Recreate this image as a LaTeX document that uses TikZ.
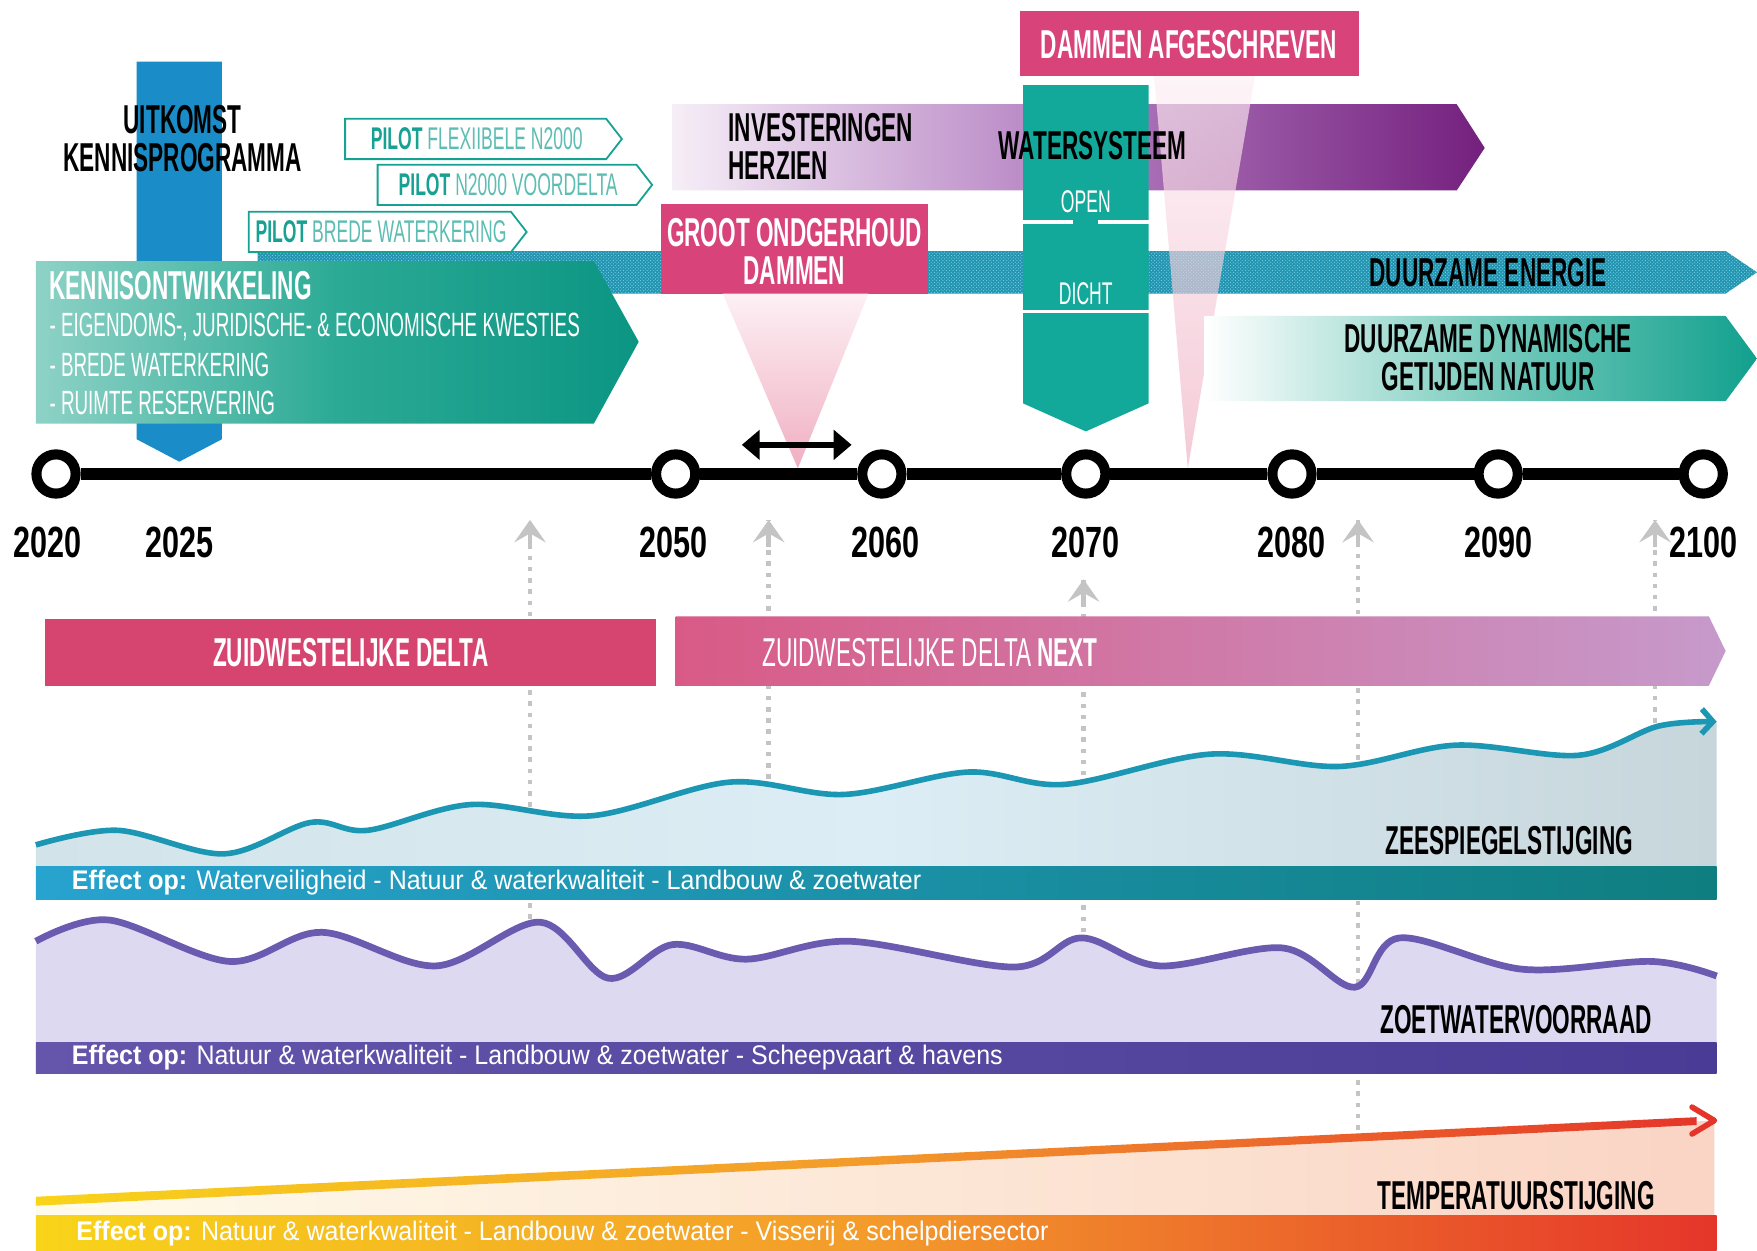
\documentclass[tikz,border=0pt]{standalone}
\usepackage{fontspec}
\usepackage{xcolor}
\usepackage{tikz}
\usetikzlibrary{arrows.meta,patterns}
\newfontfamily\headfont[FakeStretch=0.56]{Liberation Sans}
\newfontfamily\yearfont[FakeStretch=0.7]{Liberation Sans}
\newfontfamily\effectfont[FakeStretch=0.93]{Liberation Sans}
\definecolor{kennisblue}{HTML}{1A8CC7}
\definecolor{kennislight}{HTML}{8ED2C6}
\definecolor{kennismid}{HTML}{2BAA95}
\definecolor{kennisteal}{HTML}{0B9583}
\definecolor{bandcyan}{HTML}{2393B0}
\definecolor{banddot}{HTML}{7FDCEC}
\definecolor{pilotteal}{HTML}{17A192}
\definecolor{pilotsoft}{HTML}{5DBDB2}
\definecolor{investlight}{HTML}{F6EEF7}
\definecolor{investmid}{HTML}{B27DC0}
\definecolor{investpurple}{HTML}{74207E}
\definecolor{dampink}{HTML}{D8437A}
\definecolor{conetop}{HTML}{FDF0F4}
\definecolor{conebottom}{HTML}{F0AFC3}
\definecolor{watersys}{HTML}{12A99B}
\definecolor{getijmid}{HTML}{7CCDBF}
\definecolor{getijteal}{HTML}{12A08E}
\definecolor{hintgrey}{HTML}{C4C4C4}
\definecolor{deltapink}{HTML}{D6456F}
\definecolor{nextpink}{HTML}{D95A86}
\definecolor{nextlilac}{HTML}{C69ACB}
\definecolor{seafillL}{HTML}{D2E3E9}
\definecolor{seafillM}{HTML}{DCEDF5}
\definecolor{seafillR}{HTML}{C6D6DB}
\definecolor{seastroke}{HTML}{1B97B3}
\definecolor{seabarL}{HTML}{27A3CF}
\definecolor{seabarR}{HTML}{0F7E80}
\definecolor{zoetfill}{HTML}{DDD9F0}
\definecolor{zoetstroke}{HTML}{6A5BB0}
\definecolor{zoetbarL}{HTML}{6556AC}
\definecolor{zoetbarR}{HTML}{4A3B96}
\definecolor{tempfillL}{HTML}{FFFBEA}
\definecolor{tempfillR}{HTML}{FAD4C4}
\definecolor{tempyellow}{HTML}{F8D41A}
\definecolor{temporange}{HTML}{F39A2B}
\definecolor{tempred}{HTML}{E5352A}
\newcommand{\pilotbox}[5]{%
  \draw[pilotline] (#2,#3) -- (#4-14,#3) -- (#4,#3+18) -- (#4-14,#3+36) -- (#2,#3+36) -- cycle;%
  \node[pilottext] (#1) at ({(#2+#4)/2-6},#3+18) {\textbf{PILOT} {\color{pilotsoft}#5}};%
}
\newcommand{\effectbar}[6]{%
  \shade[#5] (32,#2) rectangle (1532,#3);%
  \node[effecttext] (#1) at (#4,{(#2+#3)/2}) {#6};%
}

\begin{document}
\begin{tikzpicture}[x=1pt,y=-1pt,
  headline/.style={font=\headfont\bfseries\fontsize{36}{34}\selectfont, align=center, inner sep=0pt},
  lighttext/.style={font=\headfont\fontsize{30}{34}\selectfont, inner sep=0pt},
  yearlabel/.style={font=\yearfont\bfseries\fontsize{39}{39}\selectfont, inner sep=0pt},
  yeardot/.style={circle, draw=black, line width=9pt, fill=white, minimum size=35pt, inner sep=0pt},
  axisline/.style={line width=10pt},
  hintline/.style={draw=hintgrey, line width=4pt, dash pattern=on 4pt off 6pt},
  hinttip/.style={draw=hintgrey, line width=4pt, -{Stealth[length=20pt,width=28pt,inset=8pt]}},
  effecttext/.style={font=\effectfont\fontsize{24}{24}\selectfont, text=white, anchor=west, inner sep=0pt},
  pilotline/.style={draw=pilotteal, line width=1.6pt, fill=white},
  pilottext/.style={font=\headfont\fontsize{28}{28}\selectfont, text=pilotteal, inner sep=0pt},
  seawave/.style={draw=seastroke, line width=5pt, -{Straight Barb[length=10pt,width=22pt]}},
  zoetwave/.style={draw=zoetstroke, line width=6pt}]
\useasboundingbox (0,0) rectangle (1568,1116);
\fill[white] (0,0) rectangle (1568,1116);

% grey hint arrows
\foreach \hx/\hlo/\hhi [count=\hk] in {473/820/464,686/695/464,967/832/517,1212/1008/464,1477/655/464}{
  \coordinate (hintfoot\hk) at (\hx,\hlo);
  \coordinate (hinthead\hk) at (\hx,\hhi);
  \draw[hintline] (hintfoot\hk) -- (hinthead\hk);
  \draw[hinttip] (hinthead\hk) ++(0,24) -- (hinthead\hk);
}

% duurzame energie band
\path[fill=bandcyan, postaction={pattern=crosshatch dots, pattern color=banddot}]
  (230,224) -- (1540,224) -- (1568,243) -- (1540,262) -- (230,262) -- cycle;

% pilots
\pilotbox{pilotflex}{308}{106}{555}{FLEXIIBELE N2000}
\pilotbox{pilotvoor}{337}{147}{582}{N2000 VOORDELTA}
\pilotbox{pilotbrede}{222}{189}{470}{BREDE WATERKERING}

% kennisprogramma
\fill[kennisblue] (122,55) -- (198,55) -- (198,392) -- (160,412) -- (122,392) -- cycle;
\shade[left color=kennislight, right color=kennisteal, middle color=kennismid]
  (32,233) -- (530,233) -- (570,305) -- (530,378) -- (32,378) -- cycle;
\node[headline] (uitkomst) at (163,124) {UITKOMST\\KENNISPROGRAMMA};
\node[headline, text=white, anchor=west] (kennistitle) at (44,255) {KENNISONTWIKKELING};
\node[lighttext, text=white, anchor=west] (kennis1) at (44,292) {- EIGENDOMS-, JURIDISCHE- \& ECONOMISCHE KWESTIES};
\node[lighttext, text=white, anchor=west] (kennis2) at (44,326) {- BREDE WATERKERING};
\node[lighttext, text=white, anchor=west] (kennis3) at (44,360) {- RUIMTE RESERVERING};

% investeringen
\shade[left color=investlight, right color=investpurple, middle color=investmid]
  (600,93) -- (1300,93) -- (1325,132) -- (1300,170) -- (600,170) -- cycle;
\node[headline, anchor=west, align=left] (invest) at (650,131) {INVESTERINGEN\\HERZIEN};

% dammen
\fill[dampink] (590,182) rectangle (828,262);
\node[headline, text=white] (groot) at (709,224) {GROOT ONDGERHOUD\\DAMMEN};
\shade[top color=conetop, bottom color=conebottom] (645,262) -- (775,262) -- (712,418) -- cycle;
\fill[dampink] (910,10) rectangle (1213,68);
\node[headline, text=white] (afgeschreven) at (1061,40) {DAMMEN AFGESCHREVEN};
\shade[top color=conetop, bottom color=conebottom, opacity=0.65] (1030,68) -- (1120,68) -- (1060,418) -- cycle;

% watersysteem
\fill[watersys] (913,76) -- (1025,76) -- (1025,360) -- (969,385) -- (913,360) -- cycle;
\draw[white, line width=3pt] (913,198) -- (958,198) (980,198) -- (1025,198);
\draw[white, line width=3pt] (913,278) -- (1025,278);
\node[headline] (watersysteem) at (975,130) {WATERSYSTEEM};
\node[lighttext, text=white, font=\headfont\fontsize{28}{28}\selectfont] (open) at (969,180) {OPEN};
\node[lighttext, text=white, font=\headfont\fontsize{28}{28}\selectfont] (dicht) at (969,262) {DICHT};

% duurzame natuur
\shade[left color=white, right color=getijteal, middle color=getijmid]
  (1075,282) -- (1540,282) -- (1568,320) -- (1540,358) -- (1075,358) -- cycle;
\node[headline] (getijden) at (1328,319) {DUURZAME DYNAMISCHE\\GETIJDEN NATUUR};
\node[headline] (energie) at (1328,243) {DUURZAME ENERGIE};

% onderhoudsperiode
\coordinate (periodL) at (662,397);
\coordinate (periodR) at (760,397);
\draw[line width=5pt, {Triangle[length=16pt,width=26pt]}-{Triangle[length=16pt,width=26pt]}] (periodL) -- (periodR);

% tijdlijn
\foreach \yr/\xx in {2020/50,2050/603,2060/787,2070/969,2080/1153,2090/1337,2100/1520}
  \node[yeardot] (dot\yr) at (\xx,423) {};
\foreach \ya/\yb in {2020/2050,2050/2060,2060/2070,2070/2080,2080/2090,2090/2100}
  \draw[axisline] (dot\ya) -- (dot\yb);
\foreach \yr/\xx in {2020/42,2025/160,2050/601,2060/790,2070/969,2080/1153,2090/1337,2100/1520}
  \node[yearlabel] (lab\yr) at (\xx,484) {\yr};

% deltaprogramma
\fill[deltapink] (40,552) rectangle (585,612);
\node[headline, text=white] (delta) at (313,582) {ZUIDWESTELIJKE DELTA};
\shade[left color=nextpink, right color=nextlilac]
  (603,550) -- (1525,550) -- (1540,581) -- (1525,612) -- (603,612) -- cycle;
\node[headline, text=white, anchor=west] (deltanext) at (680,582) {{\mdseries ZUIDWESTELIJKE DELTA} NEXT};

% zeespiegel
\shade[left color=seafillL, right color=seafillR, middle color=seafillM] (32,773)
  -- plot[smooth,tension=0.55] coordinates {(32,754) (105,741) (200,762) (277,734) (328,741) (420,718) (528,728) (651,698) (753,709) (864,689) (950,700) (1080,673) (1195,684) (1299,665) (1409,674) (1480,648) (1532,644)}
  -- (1532,773) -- cycle;
\draw[seawave] plot[smooth,tension=0.55] coordinates {(32,754) (105,741) (200,762) (277,734) (328,741) (420,718) (528,728) (651,698) (753,709) (864,689) (950,700) (1080,673) (1195,684) (1299,665) (1409,674) (1480,648) (1532,644)};
\effectbar{seaeffect}{773}{803}{64}{left color=seabarL, right color=seabarR}{\textbf{Effect op:} Waterveiligheid - Natuur \& waterkwaliteit - Landbouw \& zoetwater}
\node[headline] (zeespiegel) at (1347,750) {ZEESPIEGELSTIJGING};

% zoetwater
\fill[zoetfill] (32,930)
  -- plot[smooth,tension=0.55] coordinates {(32,840) (97,821) (205,858) (287,832) (389,862) (482,823) (543,873) (600,843) (666,856) (758,840) (905,863) (965,837) (1035,862) (1145,846) (1209,881) (1249,837) (1359,865) (1474,858) (1532,871)}
  -- (1532,930) -- cycle;
\draw[zoetwave] plot[smooth,tension=0.55] coordinates {(32,840) (97,821) (205,858) (287,832) (389,862) (482,823) (543,873) (600,843) (666,856) (758,840) (905,863) (965,837) (1035,862) (1145,846) (1209,881) (1249,837) (1359,865) (1474,858) (1532,871)};
\effectbar{zoeteffect}{930}{958}{64}{left color=zoetbarL, right color=zoetbarR}{\textbf{Effect op:} Natuur \& waterkwaliteit - Landbouw \& zoetwater - Scheepvaart \& havens}
\node[headline] (zoetwater) at (1353,910) {ZOETWATERVOORRAAD};

% temperatuur
\shade[left color=tempfillL, right color=tempfillR] (32,1072) -- (1530,1000) -- (1530,1085) -- (32,1085) -- cycle;
\shade[left color=tempyellow, right color=tempred, middle color=temporange] (32,1068) -- (1514,997) -- (1514,1004) -- (32,1076) -- cycle;
\draw[tempred, line width=5pt, line cap=round, line join=round] (1510,988) -- (1530,1000) -- (1510,1012);
\effectbar{tempeffect}{1085}{1116}{68}{left color=tempyellow, right color=tempred, middle color=temporange}{\textbf{Effect op:} Natuur \& waterkwaliteit - Landbouw \& zoetwater - Visserij \& schelpdiersector}
\node[headline] (temperatuur) at (1353,1067) {TEMPERATUURSTIJGING};
\end{tikzpicture}
\end{document}
